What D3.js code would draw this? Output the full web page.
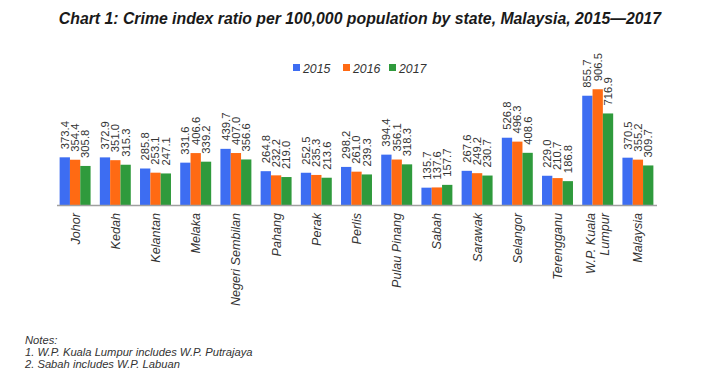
<!DOCTYPE html>
<html>
<head>
<meta charset="utf-8">
<script src="https://cdn.jsdelivr.net/npm/d3@7"></script>
<style>
  body { margin: 0; background: #fff; }
  svg { display: block; font-family: "Liberation Sans", Arial, sans-serif; }
</style>
</head>
<body>
<div id="chart-area"></div>
<script>
var states = ["Johor", "Kedah", "Kelantan", "Melaka", "Negeri Sembilan", "Pahang", "Perak",
    "Perlis", "Pulau Pinang", "Sabah", "Sarawak", "Selangor", "Terengganu",
    "W.P. Kuala Lumpur", "Malaysia"];
var years = ["2015", "2016", "2017"];
var values2015 = [373.4, 372.9, 285.8, 331.6, 439.7, 264.8, 252.5, 298.2, 394.4, 135.7, 267.6, 526.8, 229.0, 855.7, 370.5];
var values2016 = [354.4, 351.0, 253.1, 406.6, 407.0, 232.2, 235.3, 261.0, 356.1, 137.6, 249.2, 496.3, 210.7, 906.5, 355.2];
var values2017 = [305.8, 315.3, 247.1, 339.2, 356.6, 219.0, 213.6, 239.3, 318.3, 157.7, 230.7, 408.6, 186.8, 716.9, 309.7];
var notes = ["Notes:", "1. W.P. Kuala Lumpur includes W.P. Putrajaya", "2. Sabah includes W.P. Labuan"];

var colors = ["#3d6df2", "#ff6a13", "#2f9a3c"];
var width = 709, height = 390;

var series = [values2015, values2016, values2017];
var data = states.map((s, i) => ({
    state: s,
    vals: years.map((y, j) => ({ year: y, value: series[j][i], idx: j }))
}));

var svg = d3.select("#chart-area")
    .append("svg")
    .attr("width", width)
    .attr("height", height);

svg.append("text")
    .attr("x", 360)
    .attr("y", 24)
    .attr("text-anchor", "middle")
    .attr("font-size", "15.8px")
    .attr("font-weight", "bold")
    .attr("font-style", "italic")
    .attr("fill", "#1a1a1a")
    .text("Chart 1: Crime index ratio per 100,000 population by state, Malaysia, 2015\u20142017");

var x0 = d3.scaleBand()
    .domain(states)
    .range([55, 658])
    .paddingInner(0.23)
    .paddingOuter(0.115);

var x1 = d3.scaleBand()
    .domain(years)
    .range([0, x0.bandwidth()]);

var y = d3.scaleLinear()
    .domain([0, 1000])
    .range([205, 77.3]);

// legend
var legendX = [293, 343, 389];
var legend = svg.append("g").attr("class", "legend");
years.forEach((yr, i) => {
    legend.append("rect")
        .attr("x", legendX[i])
        .attr("y", 64)
        .attr("width", 7)
        .attr("height", 7)
        .attr("fill", colors[i]);
    legend.append("text")
        .attr("x", legendX[i] + 10)
        .attr("y", 72.5)
        .attr("font-size", "12.3px")
        .attr("font-style", "italic")
        .attr("fill", "#333")
        .text(yr);
});

var groups = svg.selectAll(".group")
    .data(data)
    .enter()
    .append("g")
    .attr("class", "group")
    .attr("transform", d => `translate(${x0(d.state)}, 0)`);

groups.selectAll("rect")
    .data(d => d.vals)
    .enter()
    .append("rect")
    .attr("x", d => x1(d.year))
    .attr("y", d => y(d.value))
    .attr("width", x1.bandwidth())
    .attr("height", d => y(0) - y(d.value))
    .attr("fill", d => colors[d.idx]);

groups.selectAll(".value-label")
    .data(d => d.vals)
    .enter()
    .append("text")
    .attr("class", "value-label")
    .attr("transform", d => `translate(${x1(d.year) + x1.bandwidth() / 2}, ${y(d.value) - 8}) rotate(-90)`)
    .attr("dy", "0.35em")
    .attr("font-size", "11.3px")
    .attr("fill", "#333")
    .text(d => d3.format(".1f")(d.value));

// x axis
var xAxis = svg.append("g")
    .attr("transform", "translate(0, 205)")
    .call(d3.axisBottom(x0).tickSize(0).tickFormat(""));
xAxis.select(".domain")
    .attr("d", "M57,0.5H657")
    .attr("stroke", "#a0a0a0")
    .attr("stroke-width", 1.5);

var catLabels = svg.selectAll(".cat-label")
    .data(states)
    .enter()
    .append("text")
    .attr("class", "cat-label")
    .attr("transform", d => `translate(${x0(d) + x0.bandwidth() / 2}, 213) rotate(-90)`)
    .attr("text-anchor", "end")
    .attr("font-size", "12.6px")
    .attr("font-style", "italic")
    .attr("fill", "#333");

catLabels.each(function (d) {
    var t = d3.select(this);
    if (d === "W.P. Kuala Lumpur") {
        t.append("tspan").attr("x", 0).attr("dy", "-0.2em").text("W.P. Kuala");
        t.append("tspan").attr("x", 0).attr("dy", "1.1em").text("Lumpur");
    } else {
        t.append("tspan").attr("x", 0).attr("dy", "0.35em").text(d);
    }
});

// notes
svg.selectAll(".note")
    .data(notes)
    .enter()
    .append("text")
    .attr("class", "note")
    .attr("x", 25)
    .attr("y", (d, i) => 344 + i * 12)
    .attr("font-size", "11.2px")
    .attr("font-style", "italic")
    .attr("fill", "#333")
    .text(d => d);
</script>
</body>
</html>
